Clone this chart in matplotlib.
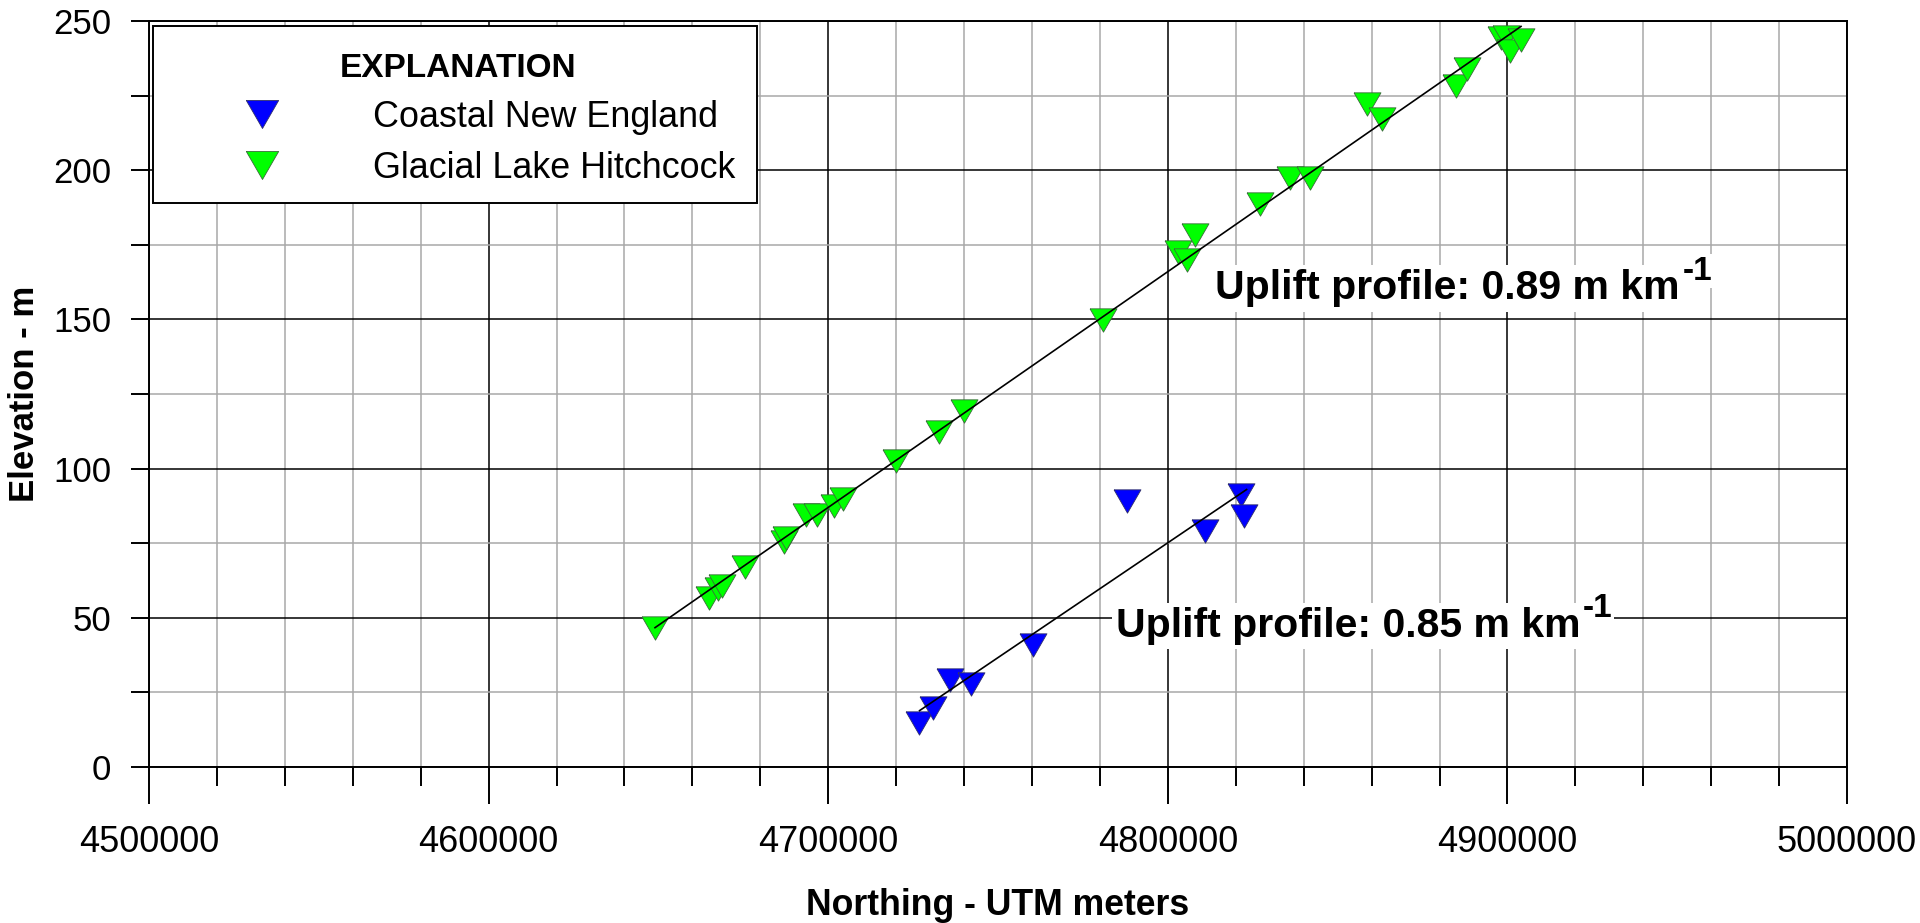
"""Uplift profiles of glacial lake and coastal shorelines: elevation vs northing"""

import matplotlib
matplotlib.use('Agg')
import matplotlib.pyplot as plt
from matplotlib.patches import Rectangle
from matplotlib.ticker import MultipleLocator

plt.rcParams['font.family'] = ['Liberation Sans', 'DejaVu Sans']

# Glacial Lake Hitchcock - northing (m) and elevation (m)
hitchcock_north = [4649000, 4664900, 4667650, 4668800, 4675500, 4687000, 4687600,
                   4693600, 4696600, 4701760, 4704400, 4719900, 4732650, 4739900,
                   4780860, 4802960, 4805630, 4807900, 4827000, 4836000, 4842000,
                   4858650, 4863200, 4884900, 4888000, 4898000, 4899700, 4900900,
                   4903900]
hitchcock_elev = [46.7, 56.5, 59.5, 60.7, 66.9, 75.3, 76.9,
                  84.3, 84.6, 87.4, 89.8, 102.6, 112.4, 119.4,
                  149.8, 172.5, 169.9, 178.2, 188.7, 197.3, 197.3,
                  222.2, 217.2, 228.1, 233.9, 244.4, 244.6, 240.0,
                  243.5]

# Coastal New England
coastal_north = [4726760, 4730900, 4735800, 4742150, 4760300, 4788040, 4811080,
                 4821570, 4822400]
coastal_elev = [14.8, 19.9, 29.0, 27.9, 41.0, 89.2, 79.1, 91.0, 84.1]

# uplift profile lines (end points)
hitchcock_fit_north = [4649000, 4904000]
hitchcock_fit_elev = [46.7, 248.2]
coastal_fit_north = [4726900, 4823200]
coastal_fit_elev = [18.9, 93.0]

# label anchors: northing, elevation, gradient in m/km
hitchcock_label = (4814000, 156.7, '0.89')
coastal_label = (4784700, 43.5, '0.85')

# downward triangle, centred on its bounding box
TRIANGLE = [(-1, 0.866), (1, 0.866), (0, -0.866), (-1, 0.866)]

fig = plt.figure(figsize=(19.2, 9.23), dpi=100)
ax = fig.add_axes([0.0776, 0.169, 0.8844, 0.8082])

ax.plot(coastal_north, coastal_elev, ls='none', marker=TRIANGLE, ms=19.4,
        mfc='#0000ff', mec='#30306a', mew=0.6, label='Coastal New England', zorder=3)
ax.plot(hitchcock_north, hitchcock_elev, ls='none', marker=TRIANGLE, ms=19.4,
        mfc='#00ff00', mec='#3a6a3a', mew=0.6, label='Glacial Lake Hitchcock', zorder=3)
ax.plot(hitchcock_fit_north, hitchcock_fit_elev, color='black', lw=1.2, zorder=4)
ax.plot(coastal_fit_north, coastal_fit_elev, color='black', lw=1.2, zorder=4)

for x, y, slope in (hitchcock_label, coastal_label):
    txt = ax.text(x, y, f'Uplift profile: {slope} m km', fontsize=29.5,
                  fontweight='bold', ha='left', va='baseline', zorder=5,
                  bbox=dict(facecolor='white', edgecolor='none', pad=3))
    # superscript -1, set after the unit
    ax.annotate('-1', xy=(1.0, 0.55), xycoords=txt, xytext=(2, 0),
                textcoords='offset points', fontsize=24, fontweight='bold',
                ha='left', va='bottom', zorder=5,
                bbox=dict(facecolor='white', edgecolor='none', pad=1))

ax.set_xlim(4500000, 5000000)
ax.set_ylim(0, 250)
ax.xaxis.set_major_locator(MultipleLocator(100000))
ax.xaxis.set_minor_locator(MultipleLocator(20000))
ax.yaxis.set_major_locator(MultipleLocator(50))
ax.yaxis.set_minor_locator(MultipleLocator(25))
ax.ticklabel_format(axis='x', style='plain', useOffset=False)

ax.set_axisbelow(True)
ax.grid(which='minor', color='#a8a8a8', lw=1.1)
ax.grid(which='major', color='black', lw=1.1)

ax.tick_params(axis='x', which='major', length=26.6, width=1.4, pad=15, labelsize=26)
ax.tick_params(axis='x', which='minor', length=13.7, width=1.4)
ax.tick_params(axis='y', which='both', length=13, width=1.4, pad=14, labelsize=25)
for spine in ax.spines.values():
    spine.set_linewidth(1.4)

ax.set_xlabel('Northing - UTM meters', fontsize=25.7, fontweight='bold')
ax.set_ylabel('Elevation - m', fontsize=25, fontweight='bold')
ax.xaxis.set_label_coords(0.5, -0.1984)
ax.xaxis.label.set_verticalalignment('baseline')
ax.yaxis.set_label_coords(-0.0736, 0.5)
ax.yaxis.label.set_verticalalignment('center')

# legend frame drawn separately so its padding can match the original box
ax.add_patch(Rectangle((0.00236, 0.756), 0.3556, 0.2373, transform=ax.transAxes,
                       facecolor='white', edgecolor='black', lw=1.4, zorder=5.5))
leg = ax.legend(loc='upper left', bbox_to_anchor=(0.0024, 0.9933), borderaxespad=0,
                title='EXPLANATION', title_fontproperties={'weight': 'bold', 'size': 24},
                fontsize=25.8, numpoints=1, markerscale=1.2, frameon=False,
                borderpad=0.75, handlelength=4.6, handletextpad=0.8, labelspacing=0.445)
leg.set_zorder(6)

fig.savefig('out.png', dpi=100)
